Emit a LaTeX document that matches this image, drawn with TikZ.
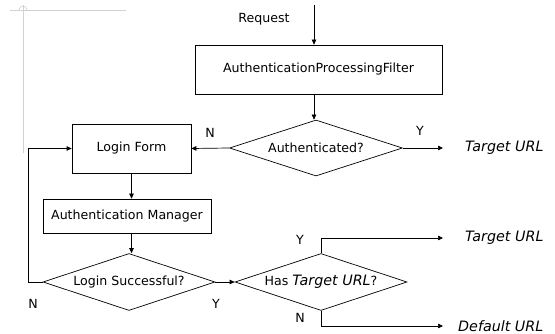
\documentclass[tikz,border=0pt]{standalone}
\usepackage{fontspec}
\setmainfont{DejaVu Sans}
\usetikzlibrary{arrows.meta,shapes.geometric}
\newcommand{\itl}[1]{{\fontsize{14.3}{16}\selectfont\itshape #1}}
\begin{document}
\begin{tikzpicture}[x=1pt,y=-1pt,
  every node/.style={font=\fontsize{12.6}{14}\selectfont},
  box/.style={draw,line width=0.7pt,inner sep=0pt,minimum width=#1},
  dia/.style={draw,diamond,line width=0.7pt,inner sep=0pt,aspect=3,minimum width=172pt,minimum height=57pt},
  arr/.style={line width=0.7pt,-{Triangle[length=5pt,width=4.5pt]}},
  lbl/.style={inner sep=0pt}]
\useasboundingbox (0,0) rectangle (555,334);
% crop mark
\draw[gray!35,line width=0.7pt] (10,10) -- (126,10) (23,5) -- (23,153);
\draw[gray!35,line width=0.7pt] (19,10) arc (180:360:4);
\node[lbl] (req) at (264,19) {Request};
\coordinate (rtop) at (314,5);
\node[box=247pt,minimum height=49pt] (filter) at (318.5,69.5) {AuthenticationProcessingFilter};
\node[dia,minimum width=173pt,minimum height=56pt] (auth) at (316,148) {Authenticated?};
\node[box=119pt,minimum height=49pt] (login) at (131.5,148.5) {Login Form};
\node[box=168pt,minimum height=34pt] (am) at (127,216) {Authentication Manager};
\node[dia] (ls) at (129,282) {Login Successful?};
\node[dia] (has) at (321,282) {Has \itl{Target URL}?};
\node[lbl,anchor=west] (t1) at (465,148) {\itl{Target URL}};
\node[lbl,anchor=west] (t2) at (465,238) {\itl{Target URL}};
\node[lbl,anchor=west] (d1) at (458,326) {\itl{Default URL}};
\coordinate (t1a) at (443,148);
\coordinate (t2a) at (443,238);
\coordinate (d1a) at (443,326);
\coordinate (loopc) at (28,282);
% labels
\node[lbl] (n1) at (210,133) {N};
\node[lbl] (y1) at (420,131) {Y};
\node[lbl] (n2) at (33,304) {N};
\node[lbl] (y2) at (216,304) {Y};
\node[lbl] (y3) at (300,240) {Y};
\node[lbl] (n3) at (300,318) {N};
% connectors
\draw[arr] (rtop) -- (rtop |- filter.north);
\draw[arr] (filter.south -| rtop) -- (auth.north -| rtop);
\draw[arr] (auth.east) -- (t1a);
\draw[arr] (auth.west) -- (login.east);
\draw[arr] (login.south) -- (login.south |- am.north);
\draw[arr] (am.south -| login.south) -- (ls.north -| login.south);
\draw[arr] (ls.west) -- (loopc) |- (login.west);
\draw[arr] (ls.east) -- (has.west);
\draw[arr] (has.north) -- (has.north |- t2a) -- (t2a);
\draw[arr] (has.south) -- (has.south |- d1a) -- (d1a);
\end{tikzpicture}
\end{document}
